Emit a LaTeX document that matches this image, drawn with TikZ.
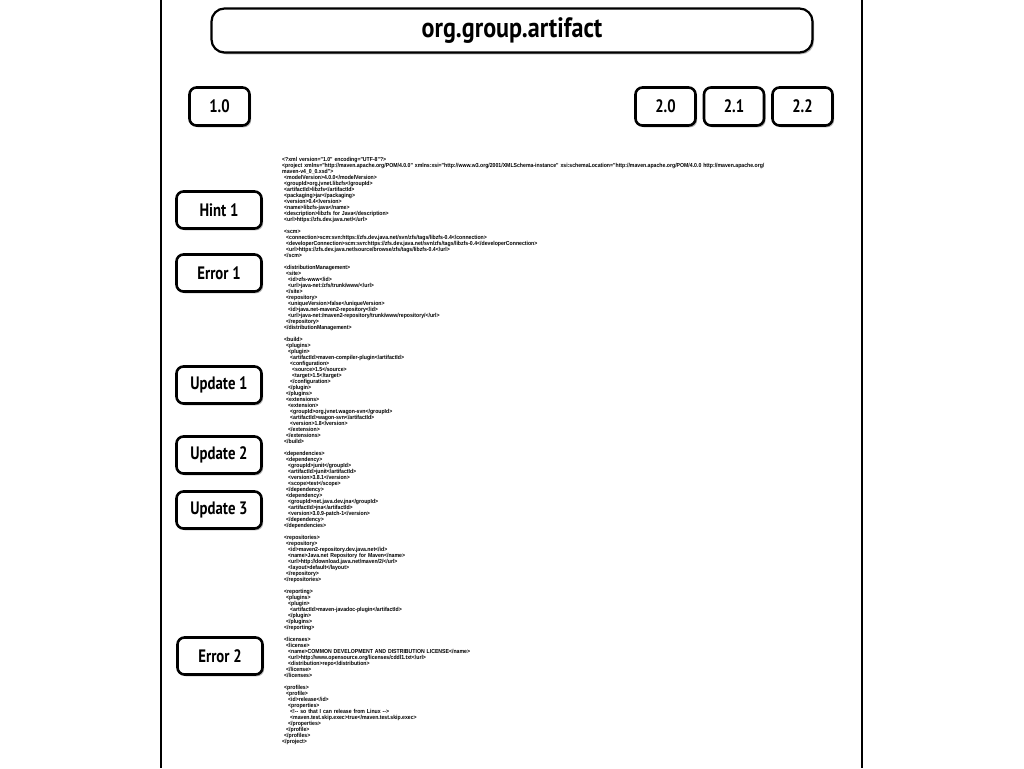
\documentclass[tikz,border=0pt]{standalone}
\usepackage{fontspec}
\usepackage{graphicx}
\usetikzlibrary{shadows}
\newfontfamily\hand{PT Sans}
\newfontfamily\xmlf{Liberation Sans}[FakeStretch=0.89]
\newcommand\xind[1]{\hspace*{#1pt}}
\newcommand\nlab[1]{\scalebox{0.82}[1]{#1}}
\newcommand\tlab[1]{\scalebox{0.86}[1]{#1}}
\tikzset{
  btn/.style={draw=black, line width=2.6pt, rounded corners=7pt, fill=white, inner sep=0pt,
    font=\hand\bfseries\fontsize{18}{18}\selectfont,
    drop shadow={shadow xshift=1.6pt, shadow yshift=-1.8pt, fill=black!60}},
  sidebox/.style={btn, minimum width=85pt, minimum height=37pt},
  verbox/.style={btn, minimum width=60pt, minimum height=38pt},
  titlebox/.style={btn, line width=2.2pt, rounded corners=13pt, minimum width=601pt, minimum height=44pt,
    font=\hand\bfseries\fontsize{28}{28}\selectfont},
  pageline/.style={line width=2pt, draw=black},
  xmltext/.style={anchor=north west, inner sep=0pt, text width=560pt, align=left,
    font=\xmlf\bfseries\fontsize{5.8}{6}\selectfont}
}
\begin{document}
\begin{tikzpicture}[x=1pt,y=-1pt]
\useasboundingbox (0,0) rectangle (1024,768);
\fill[white] (0,0) rectangle (1024,768);
\coordinate (lt) at (160.5,0); \coordinate (lb) at (160.5,768);
\coordinate (rt) at (862,0); \coordinate (rb) at (862,768);
\draw[pageline] (lt) -- (lb);
\draw[pageline] (rt) -- (rb);

\node[titlebox] (title) at (512,30.5) {\tlab{org.group.artifact}};

\node[verbox] (v10) at (219.5,106.5) {\nlab{1.0}};
\node[verbox] (v20) at (665.5,106.5) {\nlab{2.0}};
\node[verbox] (v21) at (734,106.5) {\nlab{2.1}};
\node[verbox] (v22) at (802.5,106.5) {\nlab{2.2}};

\node[sidebox] (hint1) at (219,210) {\nlab{Hint 1}};
\node[sidebox] (err1) at (219,273) {\nlab{Error 1}};
\node[sidebox] (upd1) at (219,385) {\nlab{Update 1}};
\node[sidebox] (upd2) at (219,455) {\nlab{Update 2}};
\node[sidebox] (upd3) at (219,510) {\nlab{Update 3}};
\node[sidebox] (err2) at (220,656) {\nlab{Error 2}};

\node[xmltext] (xml) at (282,157) {%
<?xml version="1.0" encoding="UTF-8"?>\\
<project xmlns="http://maven.apache.org/POM/4.0.0" xmlns:xsi="http://www.w3.org/2001/XMLSchema-instance" xsi:schemaLocation="http://maven.apache.org/POM/4.0.0 http://maven.apache.org/\\
maven-v4\_0\_0.xsd">\\
\xind{2}<modelVersion>4.0.0</modelVersion>\\
\xind{2}<groupId>org.jvnet.libzfs</groupId>\\
\xind{2}<artifactId>libzfs</artifactId>\\
\xind{2}<packaging>jar</packaging>\\
\xind{2}<version>0.4</version>\\
\xind{2}<name>libzfs-java</name>\\
\xind{2}<description>libzfs for Java</description>\\
\xind{2}<url>https://zfs.dev.java.net/</url>\\[6pt]
\xind{2}<scm>\\
\xind{4}<connection>scm:svn:https://zfs.dev.java.net/svn/zfs/tags/libzfs-0.4</connection>\\
\xind{4}<developerConnection>scm:svn:https://zfs.dev.java.net/svn/zfs/tags/libzfs-0.4</developerConnection>\\
\xind{4}<url>https://zfs.dev.java.net/source/browse/zfs/tags/libzfs-0.4</url>\\
\xind{2}</scm>\\[6pt]
\xind{2}<distributionManagement>\\
\xind{4}<site>\\
\xind{6}<id>zfs-www</id>\\
\xind{6}<url>java-net:/zfs/trunk/www/</url>\\
\xind{4}</site>\\
\xind{4}<repository>\\
\xind{6}<uniqueVersion>false</uniqueVersion>\\
\xind{6}<id>java.net-maven2-repository</id>\\
\xind{6}<url>java-net:/maven2-repository/trunk/www/repository/</url>\\
\xind{4}</repository>\\
\xind{2}</distributionManagement>\\[6pt]
\xind{2}<build>\\
\xind{4}<plugins>\\
\xind{6}<plugin>\\
\xind{8}<artifactId>maven-compiler-plugin</artifactId>\\
\xind{8}<configuration>\\
\xind{10}<source>1.5</source>\\
\xind{10}<target>1.5</target>\\
\xind{8}</configuration>\\
\xind{6}</plugin>\\
\xind{4}</plugins>\\
\xind{4}<extensions>\\
\xind{6}<extension>\\
\xind{8}<groupId>org.jvnet.wagon-svn</groupId>\\
\xind{8}<artifactId>wagon-svn</artifactId>\\
\xind{8}<version>1.8</version>\\
\xind{6}</extension>\\
\xind{4}</extensions>\\
\xind{2}</build>\\[6pt]
\xind{2}<dependencies>\\
\xind{4}<dependency>\\
\xind{6}<groupId>junit</groupId>\\
\xind{6}<artifactId>junit</artifactId>\\
\xind{6}<version>3.8.1</version>\\
\xind{6}<scope>test</scope>\\
\xind{4}</dependency>\\
\xind{4}<dependency>\\
\xind{6}<groupId>net.java.dev.jna</groupId>\\
\xind{6}<artifactId>jna</artifactId>\\
\xind{6}<version>3.0.9-patch-1</version>\\
\xind{4}</dependency>\\
\xind{2}</dependencies>\\[6pt]
\xind{2}<repositories>\\
\xind{4}<repository>\\
\xind{6}<id>maven2-repository.dev.java.net</id>\\
\xind{6}<name>Java.net Repository for Maven</name>\\
\xind{6}<url>http://download.java.net/maven/2/</url>\\
\xind{6}<layout>default</layout>\\
\xind{4}</repository>\\
\xind{2}</repositories>\\[6pt]
\xind{2}<reporting>\\
\xind{4}<plugins>\\
\xind{6}<plugin>\\
\xind{8}<artifactId>maven-javadoc-plugin</artifactId>\\
\xind{6}</plugin>\\
\xind{4}</plugins>\\
\xind{2}</reporting>\\[6pt]
\xind{2}<licenses>\\
\xind{4}<license>\\
\xind{6}<name>COMMON DEVELOPMENT AND DISTRIBUTION LICENSE</name>\\
\xind{6}<url>http://www.opensource.org/licenses/cddl1.txt</url>\\
\xind{6}<distribution>repo</distribution>\\
\xind{4}</license>\\
\xind{2}</licenses>\\[6pt]
\xind{2}<profiles>\\
\xind{4}<profile>\\
\xind{6}<id>release</id>\\
\xind{6}<properties>\\
\xind{8}<!-{}- so that I can release from Linux -{}->\\
\xind{8}<maven.test.skip.exec>true</maven.test.skip.exec>\\
\xind{6}</properties>\\
\xind{4}</profile>\\
\xind{2}</profiles>\\
</project>};
\end{tikzpicture}
\end{document}
